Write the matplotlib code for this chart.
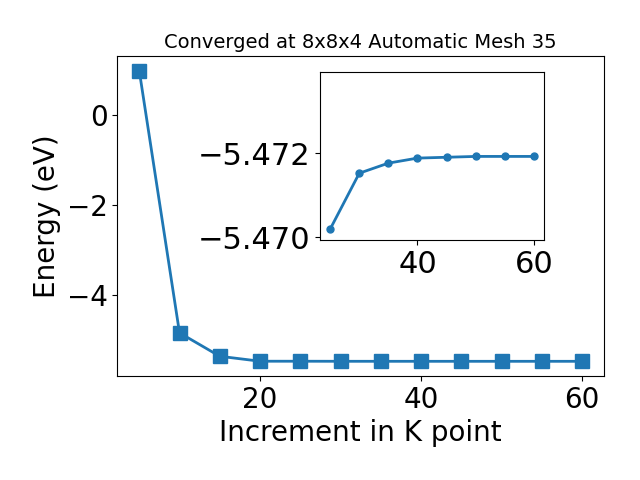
import numpy as np
import matplotlib
matplotlib.use("Agg")
from matplotlib import pyplot as plt

kpts = [5, 10, 15, 20, 25, 30, 35, 40, 45, 50, 55, 60]
energy = [0.98, -4.84, -5.36, -5.47, -5.4702, -5.4715, -5.4718, -5.4719,
          -5.4719, -5.4719, -5.4719, -5.4719]

inset_k = [25, 30, 35, 40, 45, 50, 55, 60]
inset_e = [-5.47019, -5.47152, -5.47176, -5.47188, -5.47190, -5.47192, -5.47192, -5.47192]

plt.rcParams['font.size'] = 20
fig = plt.figure(figsize=(6.4, 4.8), dpi=100)
ax = fig.add_axes([0.183, 0.217, 0.761, 0.666])
ax.plot(kpts, energy, marker='s', markersize=10, linewidth=2)
ax.set_xlabel("Increment in K point")
ax.set_ylabel("Energy (eV)")
ax.set_title("Converged at 8x8x4 Automatic Mesh 35", fontsize=14)

ins = fig.add_axes([0.5, 0.5, 0.35, 0.35])
ins.plot(inset_k, inset_e, marker='o', markersize=5, linewidth=2)
ins.set_ylim(-5.46993, -5.47393)
ins.set_yticks([-5.470, -5.472])
ins.set_xticks([40, 60])
ins.tick_params(labelsize=22)

fig.savefig("out.png")
